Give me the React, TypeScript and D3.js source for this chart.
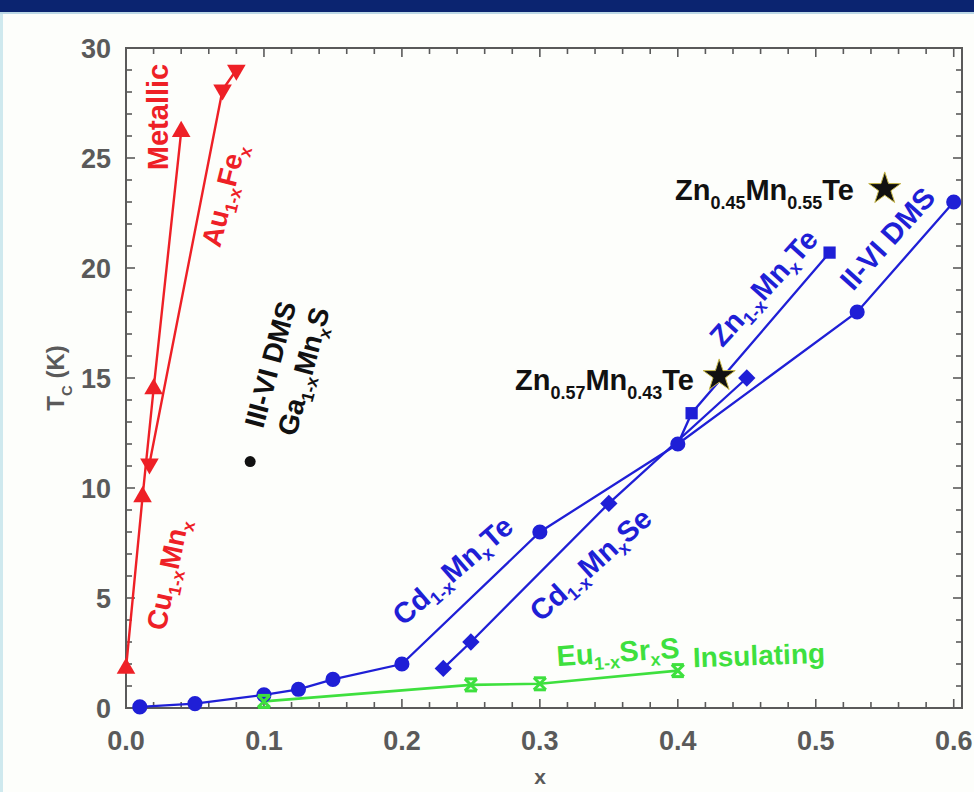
import React from 'react';
import * as d3 from 'd3';

// ---- data ----
const cuMnX = [0.0, 0.012, 0.02, 0.04];
const cuMnT = [1.8, 9.6, 14.5, 26.2];
const auFeX = [0.017, 0.07, 0.08];
const auFeT = [11.1, 28.1, 29.0];
const cdMnTeX = [0.01, 0.05, 0.1, 0.125, 0.15, 0.2, 0.3, 0.4, 0.53, 0.6];
const cdMnTeT = [0.05, 0.2, 0.6, 0.85, 1.3, 2.0, 8.0, 12.0, 18.0, 23.0];
const cdMnSeX = [0.23, 0.25, 0.35, 0.45];
const cdMnSeT = [1.8, 3.0, 9.3, 15.0];
const znMnTeLinkX = [0.4];
const znMnTeLinkT = [12.0];
const znMnTeX = [0.41, 0.51];
const znMnTeT = [13.4, 20.7];
const euSrX = [0.1, 0.25, 0.3, 0.4];
const euSrT = [0.3, 1.05, 1.1, 1.7];
const gaMnSX = [0.09];
const gaMnST = [11.2];
const starX = [0.43, 0.55];
const starT = [15.1, 23.6];
const xTickVals = [0, 0.1, 0.2, 0.3, 0.4, 0.5, 0.6];
const xTickLabels = ['0.0', '0.1', '0.2', '0.3', '0.4', '0.5', '0.6'];
const yTickVals = [0, 5, 10, 15, 20, 25, 30];
const yTickLabels = ['0', '5', '10', '15', '20', '25', '30'];

const RED = '#ee2026';
const BLUE = '#1f1fd6';
const GREEN = '#3ee03e';
const GRAY = '#5a5a5a';
const FONT = 'Liberation Sans, Arial, sans-serif';

type Part = { t: string; sub?: boolean };

function rich(parts: Part[], fs: number) {
  const out: any[] = [];
  let inSub = false;
  parts.forEach((p, i) => {
    let dy = 0;
    if (p.sub && !inSub) dy = fs * 0.32;
    if (!p.sub && inSub) dy = -fs * 0.32;
    inSub = !!p.sub;
    out.push(
      <tspan key={i} dy={dy} fontSize={p.sub ? fs * 0.62 : fs}>
        {p.t}
      </tspan>
    );
  });
  return out;
}

function zip(xs: number[], ys: number[]) {
  return xs.map((x, i) => [x, ys[i]] as [number, number]);
}

export default function App() {
  const W = 974, H = 792;
  const x = d3.scaleLinear().domain([0, 0.606]).range([126, 962]);
  const y = d3.scaleLinear().domain([0, 30]).range([708, 48]);
  const line = d3.line<[number, number]>().x(d => x(d[0])).y(d => y(d[1]));

  const tri = d3.symbol().type(d3.symbolTriangle).size(150)()!;
  const circ = d3.symbol().type(d3.symbolCircle).size(180)()!;
  const diam = d3.symbol().type(d3.symbolSquare).size(150)()!;
  const sq = d3.symbol().type(d3.symbolSquare).size(150)()!;
  const star = d3.symbol().type(d3.symbolStar).size(320)()!;

  const cu = zip(cuMnX, cuMnT);
  const au = zip(auFeX, auFeT);
  const cdTe = zip(cdMnTeX, cdMnTeT);
  const cdSe = zip(cdMnSeX, cdMnSeT);
  const znTe = zip(znMnTeX, znMnTeT);
  const znLine = zip(znMnTeLinkX, znMnTeLinkT).concat(znTe);
  const eu = zip(euSrX, euSrT);
  const ga = zip(gaMnSX, gaMnST);
  const stars = zip(starX, starT);

  const x0 = x.range()[0], x1 = x.range()[1];
  const y0 = y.range()[0], y1 = y.range()[1];

  const xMinor = d3.range(0, 0.6001, 0.02);
  const yMinor = d3.range(0, 30.001, 1);

  const label = (
    parts: Part[], cx: number, cy: number, rot: number, fill: string, fs: number, key: string
  ) => (
    <text key={key} transform={`translate(${cx},${cy}) rotate(${rot})`} textAnchor="middle"
      dominantBaseline="middle" fill={fill} fontFamily={FONT} fontWeight="bold" fontSize={fs}>
      {rich(parts, fs)}
    </text>
  );

  return (
    <svg width={W} height={H} style={{ position: 'absolute', left: 0, top: 0 }}>
      <rect x={0} y={0} width={W} height={H} fill="#fdfefb" />
      <rect x={0} y={0} width={3} height={H} fill="#cfe9ee" />
      <rect x={0} y={0} width={W} height={12} fill="#0b2470" />
      <rect x={0} y={12} width={W} height={2} fill="#bcd8e6" />

      {/* ticks */}
      {xMinor.map((v, i) => {
        const major = Math.abs(v * 10 - Math.round(v * 10)) < 1e-6;
        const len = major ? 9 : 6;
        return (
          <g key={'xt' + i} stroke={GRAY} strokeWidth={1.6}>
            <line x1={x(v)} x2={x(v)} y1={y0} y2={y0 - len} />
            <line x1={x(v)} x2={x(v)} y1={y1} y2={y1 + len} />
          </g>
        );
      })}
      {yMinor.map((v, i) => {
        const major = v % 5 === 0;
        const len = major ? 9 : 6;
        return (
          <g key={'yt' + i} stroke={GRAY} strokeWidth={1.6}>
            <line x1={x0} x2={x0 + len} y1={y(v)} y2={y(v)} />
            <line x1={x1} x2={x1 - len} y1={y(v)} y2={y(v)} />
          </g>
        );
      })}
      <rect x={x0} y={y1} width={x1 - x0} height={y0 - y1} fill="none" stroke={GRAY} strokeWidth={2} />

      {xTickVals.map((v, i) => (
        <text key={'xl' + i} x={x(v)} y={750} textAnchor="middle" fill={GRAY}
          fontFamily={FONT} fontWeight="bold" fontSize={27}>{xTickLabels[i]}</text>
      ))}
      {yTickVals.map((v, i) => (
        <text key={'yl' + i} x={111} y={y(v) + 10} textAnchor="end" fill={GRAY}
          fontFamily={FONT} fontWeight="bold" fontSize={27}>{yTickLabels[i]}</text>
      ))}
      <text transform="translate(64,378) rotate(-90)" textAnchor="middle" fill={GRAY}
        fontFamily={FONT} fontWeight="bold" fontSize={24}>
        {rich([{ t: 'T' }, { t: 'C', sub: true }, { t: ' (K)' }], 24)}
      </text>
      <text x={540} y={784} textAnchor="middle" fill={GRAY} fontFamily={FONT} fontWeight="bold" fontSize={21}>x</text>

      {/* lines */}
      <path d={line(eu)!} fill="none" stroke={GREEN} strokeWidth={2.6} />
      <path d={line(cdTe)!} fill="none" stroke={BLUE} strokeWidth={2.3} />
      <path d={line(cdSe)!} fill="none" stroke={BLUE} strokeWidth={2.3} />
      <path d={line(znLine)!} fill="none" stroke={BLUE} strokeWidth={2.3} />
      <path d={line(cu)!} fill="none" stroke={RED} strokeWidth={2.4} />
      <path d={line(au)!} fill="none" stroke={RED} strokeWidth={2.4} />

      {/* markers */}
      {cu.map((d, i) => (
        <path key={'cu' + i} d={tri} transform={`translate(${x(d[0])},${y(d[1])})`} fill={RED} />
      ))}
      {au.map((d, i) => (
        <path key={'au' + i} d={tri} transform={`translate(${x(d[0])},${y(d[1])}) rotate(180)`} fill={RED} />
      ))}
      {cdTe.map((d, i) => (
        <path key={'ct' + i} d={circ} transform={`translate(${x(d[0])},${y(d[1])})`} fill={BLUE} />
      ))}
      {cdSe.map((d, i) => (
        <path key={'cs' + i} d={diam} transform={`translate(${x(d[0])},${y(d[1])}) rotate(45)`} fill={BLUE} />
      ))}
      {znTe.map((d, i) => (
        <path key={'zt' + i} d={sq} transform={`translate(${x(d[0])},${y(d[1])})`} fill={BLUE} />
      ))}
      {eu.map((d, i) => (
        <g key={'eu' + i} transform={`translate(${x(d[0])},${y(d[1])})`} stroke={GREEN} strokeWidth={3}>
          <line x1={-6} y1={-6} x2={6} y2={6} />
          <line x1={6} y1={-6} x2={-6} y2={6} />
          <line x1={-6} y1={-6} x2={6} y2={-6} />
          <line x1={-6} y1={6} x2={6} y2={6} />
        </g>
      ))}
      {ga.map((d, i) => (
        <circle key={'ga' + i} cx={x(d[0])} cy={y(d[1])} r={5.5} fill="#111" />
      ))}
      {stars.map((d, i) => (
        <path key={'st' + i} d={star} transform={`translate(${x(d[0])},${y(d[1])})`} fill="#111"
          stroke="#c8b84a" strokeWidth={1} />
      ))}

      {/* annotations */}
      {label([{ t: 'Metallic' }], 160, 117, -90, RED, 29, 'met')}
      {label([{ t: 'Au' }, { t: '1-x', sub: true }, { t: 'Fe' }, { t: 'x', sub: true }], 226, 196, -76, RED, 28, 'au')}
      {label([{ t: 'Cu' }, { t: '1-x', sub: true }, { t: 'Mn' }, { t: 'x', sub: true }], 170, 575, -78, RED, 28, 'cu')}
      {label([{ t: 'III-VI DMS' }], 273, 365, -75, '#111', 28, 'iii')}
      {label([{ t: 'Ga' }, { t: '1-x', sub: true }, { t: 'Mn' }, { t: 'x', sub: true }, { t: 'S' }], 306, 372, -75, '#111', 28, 'ga')}
      {label([{ t: 'Cd' }, { t: '1-x', sub: true }, { t: 'Mn' }, { t: 'x', sub: true }, { t: 'Te' }], 454, 572, -41, BLUE, 29, 'cdte')}
      {label([{ t: 'Cd' }, { t: '1-x', sub: true }, { t: 'Mn' }, { t: 'x', sub: true }, { t: 'Se' }], 592, 566, -42, BLUE, 29, 'cdse')}
      {label([{ t: 'Zn' }, { t: '1-x', sub: true }, { t: 'Mn' }, { t: 'x', sub: true }, { t: 'Te' }], 765, 289, -48, BLUE, 29, 'znte')}
      {label([{ t: 'II-VI DMS' }], 889, 240, -48, BLUE, 29, 'ii')}
      {label([{ t: 'Eu' }, { t: '1-x', sub: true }, { t: 'Sr' }, { t: 'x', sub: true }, { t: 'S' }], 618, 654, -4, GREEN, 29, 'eu')}
      {label([{ t: 'Insulating' }], 759, 658, -2, GREEN, 28, 'ins')}
      <text x={675} y={200} fill="#111" fontFamily={FONT} fontWeight="bold" fontSize={29}>
        {rich([{ t: 'Zn' }, { t: '0.45', sub: true }, { t: 'Mn' }, { t: '0.55', sub: true }, { t: 'Te' }], 29)}
      </text>
      <text x={515} y={390} fill="#111" fontFamily={FONT} fontWeight="bold" fontSize={29}>
        {rich([{ t: 'Zn' }, { t: '0.57', sub: true }, { t: 'Mn' }, { t: '0.43', sub: true }, { t: 'Te' }], 29)}
      </text>
    </svg>
  );
}
